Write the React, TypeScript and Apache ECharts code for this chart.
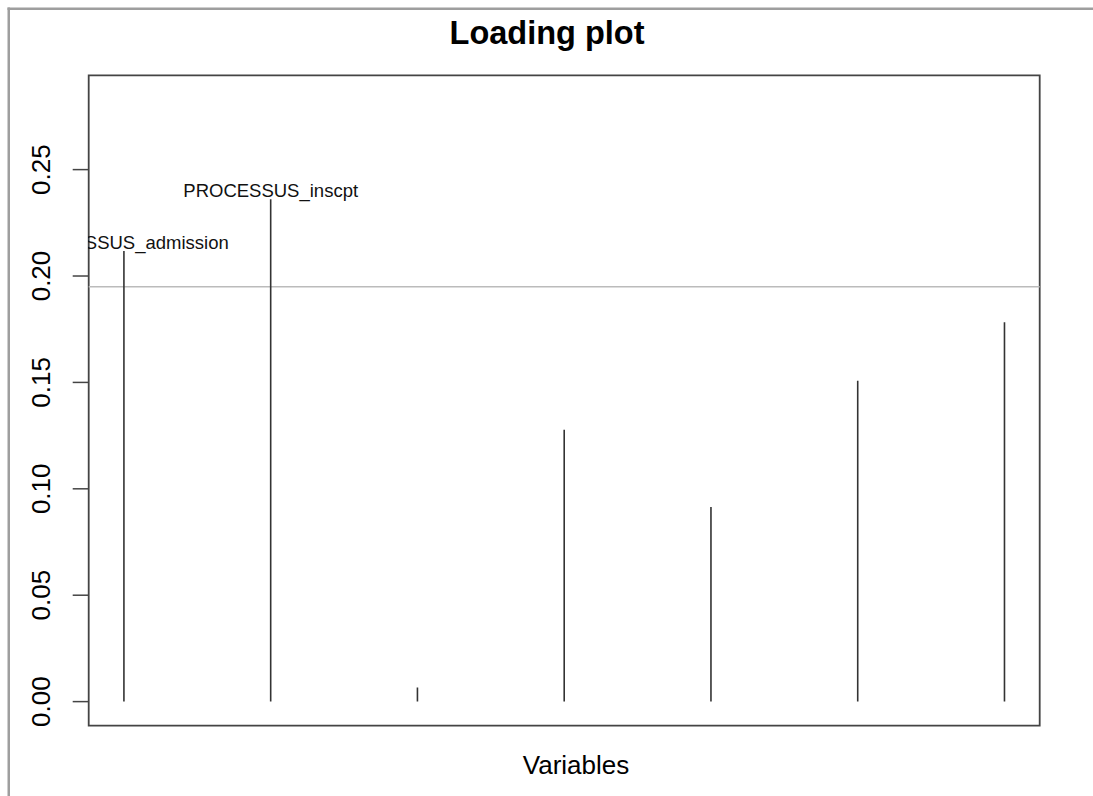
import React, { useEffect, useRef } from "react";
import * as echarts from "echarts";

const variableIndex = [1, 2, 3, 4, 5, 6, 7];
const loadings = [0.2118, 0.2361, 0.0066, 0.1277, 0.0914, 0.1508, 0.1783];
const pointLabels = ["PROCESSUS_admission", "PROCESSUS_inscpt", "", "", "", "", ""];
const yTicks = [0, 0.05, 0.1, 0.15, 0.2, 0.25];
const yTickLabels = ["0.00", "0.05", "0.10", "0.15", "0.20", "0.25"];
const threshold = 0.195;
const xRange = [0.76, 7.24];
const yRange = [-0.01132, 0.29432];

const FONT = "Liberation Sans, Arial, sans-serif";

export default function App() {
  const ref = useRef<HTMLDivElement>(null);
  useEffect(() => {
    if (!ref.current) return;
    const chart = echarts.init(ref.current, null, { renderer: "svg" });
    const barData = variableIndex.map((x, i) => [x, loadings[i]]);
    const labelData = variableIndex.map((x, i) => [x, loadings[i], pointLabels[i]]);
    const tickData = yTicks.map((v, i) => [v, yTickLabels[i]]);
    chart.setOption({
      animation: false,
      backgroundColor: "#ffffff",
      grid: {
        left: 88.7,
        top: 75.3,
        right: 53.3,
        bottom: 70.3,
        show: true,
        borderColor: "#444444",
        borderWidth: 1.8,
        backgroundColor: "transparent",
      },
      xAxis: {
        type: "value",
        min: xRange[0],
        max: xRange[1],
        show: false,
      },
      yAxis: {
        type: "value",
        min: yRange[0],
        max: yRange[1],
        show: false,
      },
      graphic: [
        { type: "rect", shape: { x: 7.5, y: 7.5, width: 2.5, height: 790 }, style: { fill: "#9e9e9e" } },
        { type: "rect", shape: { x: 7.5, y: 7.5, width: 1090, height: 2.5 }, style: { fill: "#9e9e9e" } },
        {
          type: "text",
          x: 547,
          y: 33,
          style: {
            text: "Loading plot",
            font: `bold 32.5px ${FONT}`,
            fill: "#000",
            textAlign: "center",
            textVerticalAlign: "middle",
          },
        },
        {
          type: "text",
          x: 576,
          y: 765,
          style: {
            text: "Variables",
            font: `26px ${FONT}`,
            fill: "#000",
            textAlign: "center",
            textVerticalAlign: "middle",
          },
        },
      ],
      series: [
        {
          type: "custom",
          clip: true,
          data: [[threshold]],
          renderItem: (params: any, api: any) => {
            const y = api.value(0);
            const a = api.coord([xRange[0], y]);
            const b = api.coord([xRange[1], y]);
            return {
              type: "line",
              shape: { x1: a[0], y1: a[1], x2: b[0], y2: b[1] },
              style: { stroke: "#bbbbbb", lineWidth: 1.5 },
            };
          },
        },
        {
          type: "custom",
          clip: true,
          data: barData,
          renderItem: (params: any, api: any) => {
            const x = api.value(0);
            const y = api.value(1);
            const a = api.coord([x, 0]);
            const b = api.coord([x, y]);
            return {
              type: "line",
              shape: { x1: a[0], y1: a[1], x2: b[0], y2: b[1] },
              style: { stroke: "#333333", lineWidth: 1.6 },
            };
          },
        },
        {
          type: "custom",
          clip: true,
          data: labelData,
          renderItem: (params: any, api: any) => {
            const idx = params.dataIndex;
            const text = pointLabels[idx];
            if (!text) return null;
            const p = api.coord([api.value(0), api.value(1)]);
            return {
              type: "text",
              x: p[0],
              y: p[1] + 1,
              style: {
                text,
                font: `18.5px ${FONT}`,
                fill: "#111",
                textAlign: "center",
                textVerticalAlign: "bottom",
              },
            };
          },
        },
        {
          type: "custom",
          clip: false,
          data: tickData,
          renderItem: (params: any, api: any) => {
            const idx = params.dataIndex;
            const v = yTicks[idx];
            const p = api.coord([xRange[0], v]);
            return {
              type: "group",
              children: [
                {
                  type: "line",
                  shape: { x1: p[0] - 16, y1: p[1], x2: p[0], y2: p[1] },
                  style: { stroke: "#444444", lineWidth: 1.5 },
                },
                {
                  type: "text",
                  x: 41,
                  y: p[1],
                  rotation: Math.PI / 2,
                  style: {
                    text: yTickLabels[idx],
                    font: `26px ${FONT}`,
                    fill: "#000",
                    textAlign: "center",
                    textVerticalAlign: "middle",
                  },
                },
              ],
            };
          },
        },
      ],
    });
    return () => chart.dispose();
  }, []);
  return (
    <div
      ref={ref}
      style={{ position: "fixed", left: 0, top: 0, width: 1093, height: 796, background: "#fff" }}
    />
  );
}
